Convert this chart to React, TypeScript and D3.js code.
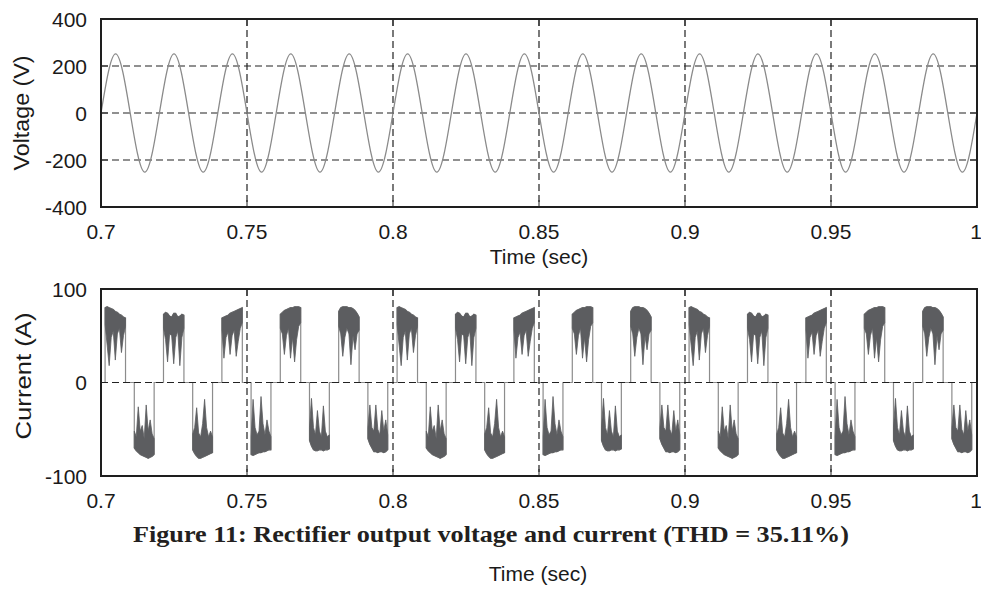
import React from 'react';
import * as d3 from 'd3';

const WIDTH = 981;
const HEIGHT = 592;

// ---------- data ----------
const timeTicks = [0.7, 0.75, 0.8, 0.85, 0.9, 0.95, 1];
const voltageTicks = [400, 200, 0, -200, -400];
const currentTicks = [100, 0, -100];

// Voltage trace: zero crossings and peaks (every quarter period)
const voltageTime = [
  0.7, 0.705, 0.71, 0.715, 0.72, 0.725, 0.73, 0.735, 0.74, 0.745,
  0.75, 0.755, 0.76, 0.765, 0.77, 0.775, 0.78, 0.785, 0.79, 0.795,
  0.8, 0.805, 0.81, 0.815, 0.82, 0.825, 0.83, 0.835, 0.84, 0.845,
  0.85, 0.855, 0.86, 0.865, 0.87, 0.875, 0.88, 0.885, 0.89, 0.895,
  0.9, 0.905, 0.91, 0.915, 0.92, 0.925, 0.93, 0.935, 0.94, 0.945,
  0.95, 0.955, 0.96, 0.965, 0.97, 0.975, 0.98, 0.985, 0.99, 0.995, 1.0,
];
const voltageValue = [
  0, 252, 0, -252, 0, 252, 0, -252, 0, 252,
  0, -252, 0, 252, 0, -252, 0, 252, 0, -252,
  0, 252, 0, -252, 0, 252, 0, -252, 0, 252,
  0, -252, 0, 252, 0, -252, 0, 252, 0, -252,
  0, 252, 0, -252, 0, 252, 0, -252, 0, 252,
  0, -252, 0, 252, 0, -252, 0, 252, 0, -252, 0,
];

// Current trace: conduction pulses
const positivePulseStart = [0.7014, 0.7214, 0.7414, 0.7614, 0.7814, 0.8014, 0.8214, 0.8414, 0.8614, 0.8814, 0.9014, 0.9214, 0.9414, 0.9614, 0.9814];
const positivePulseEnd = [0.7084, 0.7284, 0.7484, 0.7684, 0.7884, 0.8084, 0.8284, 0.8484, 0.8684, 0.8884, 0.9084, 0.9284, 0.9484, 0.9684, 0.9884];
const positivePulseShape = [0, 1, 2, 3, 4, 0, 1, 2, 3, 4, 0, 1, 2, 3, 4];
const negativePulseStart = [0.7114, 0.7314, 0.7514, 0.7714, 0.7914, 0.8114, 0.8314, 0.8514, 0.8714, 0.8914, 0.9114, 0.9314, 0.9514, 0.9714, 0.9914];
const negativePulseEnd = [0.7182, 0.7382, 0.7582, 0.7782, 0.7982, 0.8182, 0.8382, 0.8582, 0.8782, 0.8982, 0.9182, 0.9382, 0.9582, 0.9782, 0.9982];
const negativePulseShape = [0, 1, 2, 3, 4, 0, 1, 2, 3, 4, 0, 1, 2, 3, 4];

// fraction of pulse width at which the envelopes are sampled
const pulseSamples = [0, 0.1, 0.2, 0.3, 0.4, 0.5, 0.6, 0.7, 0.8, 0.9, 1];

// positive pulses: outer envelope (peaks) and inner envelope (ripple dips)
const positiveOuter = [
  [80, 81, 80, 79, 78, 76, 75, 73, 72, 70, 69],
  [73, 75, 74, 71, 70, 74, 74, 70, 71, 73, 72],
  [69, 70, 71, 72, 74, 75, 76, 77, 78, 79, 80],
  [73, 75, 77, 78, 79, 80, 80, 81, 81, 81, 80],
  [76, 80, 81, 81, 81, 80, 80, 79, 77, 74, 70],
];
const positiveInner = [
  [62, 40, 18, 48, 55, 24, 52, 58, 32, 50, 60],
  [58, 46, 22, 52, 50, 20, 48, 55, 18, 48, 58],
  [56, 26, 48, 54, 30, 50, 56, 28, 44, 58, 64],
  [58, 52, 30, 50, 58, 26, 48, 22, 46, 60, 64],
  [60, 52, 28, 48, 58, 52, 19, 50, 35, 52, 56],
];
// negative pulses
const negativeOuter = [
  [-70, -73, -75, -77, -78, -79, -80, -81, -80, -79, -77],
  [-72, -76, -79, -81, -81, -80, -79, -78, -77, -76, -75],
  [-77, -78, -77, -76, -75, -75, -74, -74, -73, -72, -72],
  [-62, -68, -72, -73, -73, -72, -72, -73, -72, -72, -71],
  [-60, -66, -70, -74, -74, -75, -74, -74, -75, -74, -72],
];
const negativeInner = [
  [-52, -58, -26, -52, -46, -60, -24, -52, -40, -55, -60],
  [-55, -48, -27, -54, -58, -44, -18, -48, -58, -52, -58],
  [-58, -18, -48, -56, -52, -15, -44, -56, -40, -52, -58],
  [-48, -17, -48, -56, -30, -52, -58, -25, -52, -58, -56],
  [-48, -24, -48, -52, -24, -50, -56, -30, -52, -40, -56],
];

// ---------- layout ----------
const LEFT = 101;
const RIGHT = 977;
const TOP1 = 19;
const BOTTOM1 = 207;
const TOP2 = 289;
const BOTTOM2 = 476;

const AXIS_FONT = '"Liberation Sans", Arial, Helvetica, sans-serif';
const CAPTION_FONT = '"Liberation Serif", "Times New Roman", serif';

type Pulse = { start: number; end: number; outer: number[]; inner: number[] };

function buildPulses(): Pulse[] {
  const pulses: Pulse[] = [];
  positivePulseStart.forEach((s, i) => {
    const k = positivePulseShape[i];
    pulses.push({ start: s, end: positivePulseEnd[i], outer: positiveOuter[k], inner: positiveInner[k] });
  });
  negativePulseStart.forEach((s, i) => {
    const k = negativePulseShape[i];
    pulses.push({ start: s, end: negativePulseEnd[i], outer: negativeOuter[k], inner: negativeInner[k] });
  });
  pulses.sort((a, b) => a.start - b.start);
  return pulses;
}

type PanelProps = {
  x: d3.ScaleLinear<number, number>;
  y: d3.ScaleLinear<number, number>;
  yTicks: number[];
  top: number;
  bottom: number;
};

const Grid: React.FC<PanelProps> = ({ x, y, yTicks, top, bottom }) => {
  const dash = '7,4';
  return (
    <g>
      {timeTicks.slice(1, -1).map((t) => (
        <line key={'vg' + t} x1={x(t)} x2={x(t)} y1={top} y2={bottom} stroke="#222" strokeWidth={1.2} strokeDasharray={dash} />
      ))}
      {yTicks.slice(1, -1).map((v) => (
        <line key={'hg' + v} x1={LEFT} x2={RIGHT} y1={y(v)} y2={y(v)} stroke="#222" strokeWidth={1.2} strokeDasharray={dash} />
      ))}
      {timeTicks.map((t) => (
        <g key={'xt' + t}>
          <line x1={x(t)} x2={x(t)} y1={bottom} y2={bottom - 7} stroke="#222" strokeWidth={1} />
          <line x1={x(t)} x2={x(t)} y1={top} y2={top + 7} stroke="#222" strokeWidth={1} />
        </g>
      ))}
      {yTicks.map((v) => (
        <g key={'yt' + v}>
          <line x1={LEFT} x2={LEFT + 7} y1={y(v)} y2={y(v)} stroke="#222" strokeWidth={1} />
          <line x1={RIGHT} x2={RIGHT - 7} y1={y(v)} y2={y(v)} stroke="#222" strokeWidth={1} />
        </g>
      ))}
    </g>
  );
};

const Frame: React.FC<PanelProps> = ({ x, y, yTicks, top, bottom }) => (
  <g>
    <rect x={LEFT} y={top} width={RIGHT - LEFT} height={bottom - top} fill="none" stroke="#1e1e1e" strokeWidth={2} />
    {timeTicks.map((t) => (
      <text
        key={'xl' + t}
        x={t === 1 ? x(t) - 1 : x(t)}
        y={bottom + 31.5}
        textAnchor="middle"
        fontFamily={AXIS_FONT}
        fontSize={21}
        fill="#1a1a1a"
      >
        {String(t)}
      </text>
    ))}
    {yTicks.map((v) => (
      <text key={'yl' + v} x={87} y={y(v) + 7.5} textAnchor="end" fontFamily={AXIS_FONT} fontSize={21} fill="#1a1a1a">
        {String(v)}
      </text>
    ))}
  </g>
);

export default function App() {
  const x = d3.scaleLinear().domain([0.7, 1]).range([LEFT, RIGHT]);
  const yV = d3.scaleLinear().domain([-400, 400]).range([BOTTOM1, TOP1]);
  const yI = d3.scaleLinear().domain([-100, 100]).range([BOTTOM2, TOP2]);

  const voltagePts: [number, number][] = voltageTime.map((t, i) => [t, voltageValue[i]]);
  const voltagePath =
    d3
      .line<[number, number]>()
      .x((d) => x(d[0]))
      .y((d) => yV(d[1]))
      .curve(d3.curveNatural)(voltagePts) || '';

  const pulses = buildPulses();

  // thin trace: zero segments, pulse edges and outer envelope
  const tracePts: [number, number][] = [[0.7, 0]];
  pulses.forEach((p) => {
    tracePts.push([p.start, 0]);
    pulseSamples.forEach((f, j) => tracePts.push([p.start + f * (p.end - p.start), p.outer[j]]));
    tracePts.push([p.end, 0]);
  });
  tracePts.push([1, 0]);
  const tracePath =
    d3
      .line<[number, number]>()
      .x((d) => x(d[0]))
      .y((d) => yI(d[1]))(tracePts) || '';

  type S = { t: number; o: number; i: number };
  const bandArea = d3
    .area<S>()
    .x((d) => x(d.t))
    .y0((d) => yI(d.i))
    .y1((d) => yI(d.o));

  return (
    <svg
      width={WIDTH}
      height={HEIGHT}
      viewBox={`0 0 ${WIDTH} ${HEIGHT}`}
      style={{ position: 'absolute', left: 0, top: 0, display: 'block', background: '#fff' }}
    >
      <rect x={0} y={0} width={WIDTH} height={HEIGHT} fill="#fff" />

      {/* ---------- voltage panel ---------- */}
      <Grid x={x} y={yV} yTicks={voltageTicks} top={TOP1} bottom={BOTTOM1} />
      <path d={voltagePath} fill="none" stroke="#8a8a8a" strokeWidth={1.3} />
      <Frame x={x} y={yV} yTicks={voltageTicks} top={TOP1} bottom={BOTTOM1} />
      <text
        transform={`translate(29, ${(TOP1 + BOTTOM1) / 2}) rotate(-90)`}
        textAnchor="middle"
        fontFamily={AXIS_FONT}
        fontSize={22}
        textLength={115}
        lengthAdjust="spacingAndGlyphs"
        fill="#1a1a1a"
      >
        Voltage (V)
      </text>
      <text x={(LEFT + RIGHT) / 2} y={264} textAnchor="middle" fontFamily={AXIS_FONT} fontSize={21} fill="#1a1a1a">
        Time (sec)
      </text>

      {/* ---------- current panel ---------- */}
      <path d={tracePath} fill="none" stroke="#8c8c8c" strokeWidth={1.2} />
      {pulses.map((p, k) => {
        const pts: S[] = pulseSamples.map((f, j) => ({ t: p.start + f * (p.end - p.start), o: p.outer[j], i: p.inner[j] }));
        return <path key={'band' + k} d={bandArea(pts) || ''} fill="#5c5d60" stroke="#5c5d60" strokeWidth={0.8} strokeLinejoin="round" />;
      })}
      <Grid x={x} y={yI} yTicks={currentTicks} top={TOP2} bottom={BOTTOM2} />
      <Frame x={x} y={yI} yTicks={currentTicks} top={TOP2} bottom={BOTTOM2} />
      <text
        transform={`translate(31, ${376}) rotate(-90)`}
        textAnchor="middle"
        fontFamily={AXIS_FONT}
        fontSize={22}
        textLength={127}
        lengthAdjust="spacingAndGlyphs"
        fill="#1a1a1a"
      >
        Current (A)
      </text>

      {/* ---------- caption ---------- */}
      <text
        x={491}
        y={542}
        textAnchor="middle"
        fontFamily={CAPTION_FONT}
        fontWeight="bold"
        fontSize={23}
        textLength={716}
        lengthAdjust="spacingAndGlyphs"
        fill="#231f20"
      >
        Figure 11: Rectifier output voltage and current (THD = 35.11%)
      </text>
      <text x={538} y={581} textAnchor="middle" fontFamily={AXIS_FONT} fontSize={21} fill="#1a1a1a">
        Time (sec)
      </text>
    </svg>
  );
}
